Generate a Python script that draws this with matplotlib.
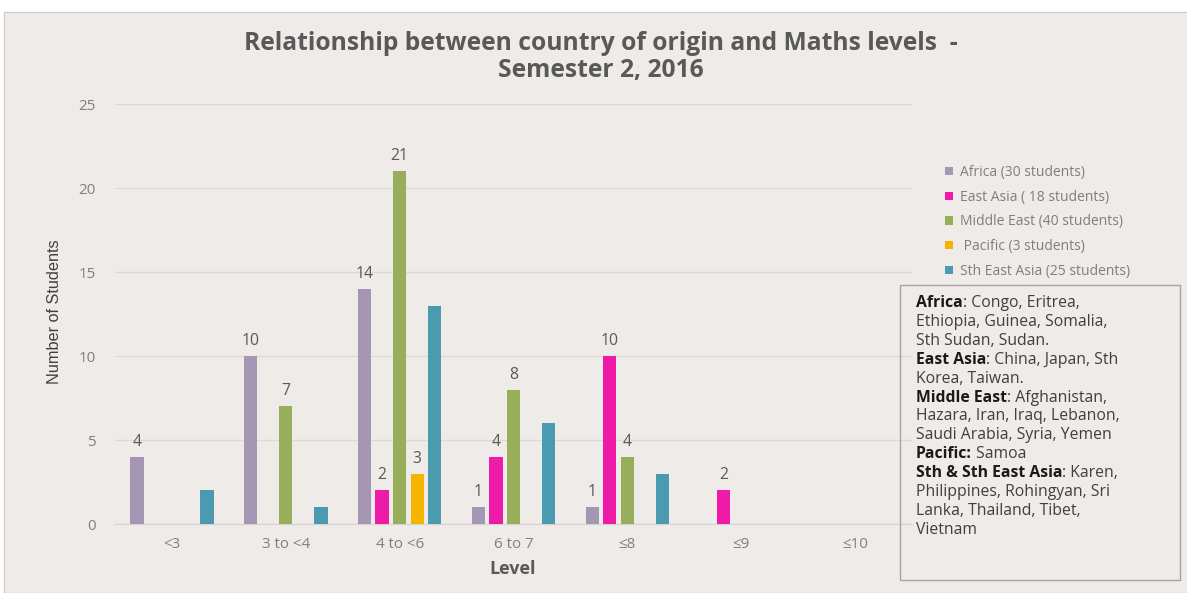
import matplotlib
matplotlib.use("Agg")
import matplotlib.pyplot as plt
from matplotlib.patches import Rectangle, Patch
import numpy as np

categories = ["<3", "3 to <4", "4 to <6", "6 to 7", "\u22648", "\u22649", "\u226410"]
series_names = ["Africa (30 students)", "East Asia ( 18 students)", "Middle East (40 students)",
                " Pacific (3 students)", "Sth East Asia (25 students)"]
africa = [4, 10, 14, 1, 1, 0, 0]
east_asia = [0, 0, 2, 4, 10, 2, 0]
middle_east = [0, 7, 21, 8, 4, 0, 0]
pacific = [0, 0, 3, 0, 0, 0, 0]
sth_east_asia = [2, 1, 13, 6, 3, 0, 0]
series_values = [africa, east_asia, middle_east, pacific, sth_east_asia]
series_colors = ["#a597b4", "#ee1aa8", "#97ae5a", "#f5b400", "#4a9bb0"]
show_labels = [True, True, True, True, False]
y_ticks = [0, 5, 10, 15, 20, 25]
title_lines = ["Relationship between country of origin and Maths levels  -", "Semester 2, 2016"]

note_lines = [
    ("Africa", ": Congo, Eritrea,"),
    ("", "Ethiopia, Guinea, Somalia,"),
    ("", "Sth Sudan, Sudan."),
    ("East Asia", ": China, Japan, Sth"),
    ("", "Korea, Taiwan."),
    ("Middle East", ": Afghanistan,"),
    ("", "Hazara, Iran, Iraq, Lebanon,"),
    ("", "Saudi Arabia, Syria, Yemen"),
    ("Pacific:", " Samoa"),
    ("Sth & Sth East Asia", ": Karen,"),
    ("", "Philippines, Rohingyan, Sri"),
    ("", "Lanka, Thailand, Tibet,"),
    ("", "Vietnam"),
]

BG = "#eeebe8"
W, H = 1187, 593
FONT = ['Open Sans', 'DejaVu Sans']
plt.rcParams['font.family'] = FONT

fig = plt.figure(figsize=(W / 100, H / 100), dpi=100)
fig.patch.set_facecolor("white")
R = fig.canvas.get_renderer()
SHRINK = 0.86


def fit_size(text, target_px, weight="normal", family=None, k=SHRINK):
    t = fig.text(0, 0, text, fontsize=10, fontweight=weight, family=family or FONT)
    w = t.get_window_extent(R).width
    t.remove()
    return 10 * target_px / w * k


fig.patches.append(Rectangle((4 / W, 0), 1.0, (H - 12) / H, transform=fig.transFigure,
                             facecolor=BG, edgecolor="#d0cdca", lw=1, zorder=-10))

ax = fig.add_axes([115 / W, 69 / H, (912 - 115) / W, (524 - 104) / H])
ax.set_facecolor("none")
x = np.arange(len(categories))
step = 0.154
width = 0.117
lab_size = fit_size("14", 21)
for i, (vals, col, lab) in enumerate(zip(series_values, series_colors, show_labels)):
    xs = x + (i - 2) * step
    ax.bar(xs, vals, width=width, color=col, zorder=3)
    if lab:
        for xx, v in zip(xs, vals):
            if v > 0:
                ax.annotate(str(v), (xx, v), xytext=(0, 5), textcoords="offset points",
                            ha="center", va="bottom", fontsize=lab_size, color="#595959")

tick_size = fit_size("3 to <4", 56)
ax.set_xlim(-0.5, len(categories) - 0.5)
ax.set_ylim(0, 25)
ax.set_yticks(y_ticks)
ax.set_xticks(x)
ax.set_xticklabels(categories)
ax.tick_params(axis="both", length=0, colors="#7f7f7f", labelsize=tick_size)
ax.tick_params(axis="y", pad=14)
ax.tick_params(axis="x", pad=9)
ax.grid(axis="y", color="#dcd9d6", lw=1, zorder=0)
for s in ["top", "right", "left"]:
    ax.spines[s].set_visible(False)
ax.spines["bottom"].set_color("#d6d3d0")

title_size = fit_size(title_lines[0], 796, weight="bold", k=0.9)
fig.text(601 / W, 1 - 43 / H, title_lines[0], ha="center", va="center", fontsize=title_size,
         fontweight="bold", color="#595959")
fig.text(601 / W, 1 - 71 / H, title_lines[1], ha="center", va="center", fontsize=title_size,
         fontweight="bold", color="#595959")
fig.text(513 / W, 1 - 569 / H, "Level", ha="center", va="center",
         fontsize=fit_size("Level", 55, weight="bold"), fontweight="bold", color="#595959")
yl_family = ['Liberation Sans Narrow', 'Liberation Sans', 'DejaVu Sans']
fig.text(55 / W, 1 - 312 / H, "Number of Students", ha="center", va="center", rotation=90,
         fontsize=fit_size("Number of Students", 145, family=yl_family, k=1.0), color="#404040",
         family=yl_family)

leg_size = fit_size("Sth East Asia (25 students)", 197)
handles = [Patch(facecolor=c, edgecolor="none") for c in series_colors]
fig.legend(handles, series_names, loc="upper left", bbox_to_anchor=(945 / W, 1 - 165 / H),
           frameon=False, fontsize=leg_size, labelcolor="#7f7f7f", handlelength=0.55, handleheight=0.55,
           handletextpad=0.5, labelspacing=0.7, borderaxespad=0, borderpad=0)

fig.patches.append(Rectangle((900 / W, 1 - 580 / H), 280 / W, 295 / H, transform=fig.transFigure,
                             facecolor="none", edgecolor="#a6a3a0", lw=1))
box_size = fit_size("Ethiopia, Guinea, Somalia,", 222)
y0 = 302
lh = 18.9
for k, (b, r) in enumerate(note_lines):
    yp = H - (y0 + k * lh) - 5
    if b:
        tb = fig.text(916, yp, b, transform=None, fontsize=box_size, fontweight="bold",
                      color="#1a1a1a", va="baseline", ha="left")
        ax.annotate(r, xy=(1, yp), xycoords=(tb, "figure pixels"), va="baseline",
                    ha="left", fontsize=box_size, color="#404040", annotation_clip=False)
    else:
        fig.text(916, yp, r, transform=None, fontsize=box_size, color="#404040",
                 va="baseline", ha="left")

fig.savefig("out.png", dpi=100, facecolor=fig.get_facecolor())
